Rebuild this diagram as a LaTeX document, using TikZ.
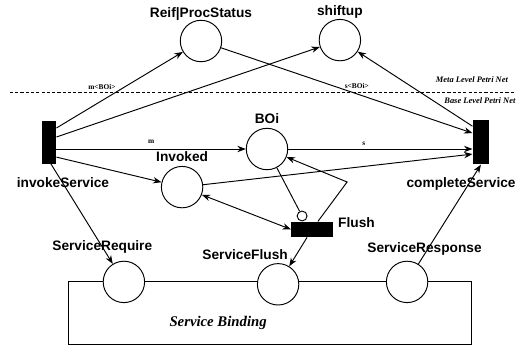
\documentclass[tikz,border=0pt]{standalone}
\usepackage{fontspec}
\setmainfont{Liberation Serif}
\setsansfont{Liberation Sans}
\usetikzlibrary{arrows.meta}

\begin{document}
\begin{tikzpicture}[>={Stealth[length=8pt,width=6pt]}, line width=0.9pt,
		place/.style={circle, draw, fill=white, minimum size=1.38cm, inner sep=0pt},
		trans/.style={rectangle, fill=black, inner sep=0pt},
		lbl/.style={font=\sffamily\bfseries\fontsize{13}{15}\selectfont, inner sep=0pt, text depth=0pt},
		arclbl/.style={font=\bfseries\fontsize{7}{8}\selectfont, inner sep=0pt},
		lvl/.style={font=\bfseries\itshape\fontsize{8}{9}\selectfont}]
				\useasboundingbox (0,0) rectangle (17.2,11.667);
				% meta level / base level
				\draw[dash pattern=on 3pt off 2pt, line width=1pt] (0.33,8.57) -- (17.2,8.57);
				\node[lvl, anchor=west] (meta) at (14.40,9.0) {Meta Level Petri Net};
				\node[lvl, anchor=west] (base) at (14.68,8.3) {Base Level Petri Net};
				% service binding
				\draw (2.27,0.17) rectangle (15.7,2.27);
				\node[font=\bfseries\itshape\fontsize{14}{16}\selectfont] (binding) at (7.27,0.9) {Service Binding};
				% places
				\node[place, label={[lbl, label distance=2pt]above:Reif|ProcStatus}] (reif) at (6.70,10.30) {};
				\node[place, label={[lbl, label distance=3pt]above:shiftup}] (shiftup) at (11.33,10.33) {};
				\node[place, label={[lbl, label distance=4pt]above:BOi}] (boi) at (8.90,6.70) {};
				\node[place, label={[lbl, label distance=3.5pt]above:Invoked}] (invoked) at (6.07,5.43) {};
				\node[place, label={[lbl, xshift=-0.72cm, label distance=9pt]above:ServiceRequire}] (srequire) at (4.13,2.27) {};
				\node[place, label={[lbl, xshift=-1.1cm, label distance=3pt]above:ServiceFlush}] (sflush) at (9.27,2.19) {};
				\node[place, label={[lbl, xshift=0.58cm, label distance=7.5pt]above:ServiceResponse}] (sresponse) at (13.57,2.27) {};
				% transitions
				\node[trans, minimum width=0.47cm, minimum height=1.43cm, label={[lbl, xshift=0.47cm, label distance=12pt]below:invokeService}] (invokeService) at (1.63,6.93) {};
				\node[trans, minimum width=0.53cm, minimum height=1.47cm, label={[lbl, xshift=-0.66cm, label distance=12pt]below:completeService}] (completeService) at (16.03,6.93) {};
				\node[trans, minimum width=1.37cm, minimum height=0.5cm, label={[lbl, yshift=0.22cm, label distance=4.5pt]right:Flush}] (flush) at (10.40,4.02) {};
				\node[circle, draw, fill=white, minimum size=0.33cm, inner sep=0pt, anchor=south] (inhib) at ([xshift=-0.33cm]flush.north) {};
				\coordinate (flushbend) at (11.57,5.6);
				% arcs
				\draw[->] ([yshift=0.47cm]invokeService.east) -- (reif) node[arclbl, pos=0.36, above=10pt] (mboi) {m<BOi>};
				\draw[->] ([yshift=0.17cm]invokeService.east) -- (shiftup);
				\draw[->] (invokeService.east |- boi) -- (boi) node[arclbl, midway, above=5pt] (m) {m};
				\draw[->] ([yshift=-0.5cm]invokeService.east) -- (invoked);
				\draw[->] ([xshift=0.07cm]invokeService.south) -- (srequire);
				\draw[->] (reif) -- ([yshift=0.3cm]completeService.west) node[arclbl, pos=0.54, above=5pt] (sboi) {s<BOi>};
				\draw[->] ([yshift=0.53cm]completeService.west) -- (shiftup);
				\draw[->] (boi) -- (boi -| completeService.west) node[arclbl, pos=0.41, above=3pt] (s) {s};
				\draw[->] (invoked) -- ([yshift=-0.4cm]completeService.west);
				\draw[->] (sresponse) -- (completeService.south);
				\draw (boi) -- (inhib);
				\draw[<->] (invoked) -- (flush.west);
				\draw[->] (flush) -- (flushbend) -- (boi);
				\draw[->] (flush) -- (sflush);
			\end{tikzpicture}
\end{document}
